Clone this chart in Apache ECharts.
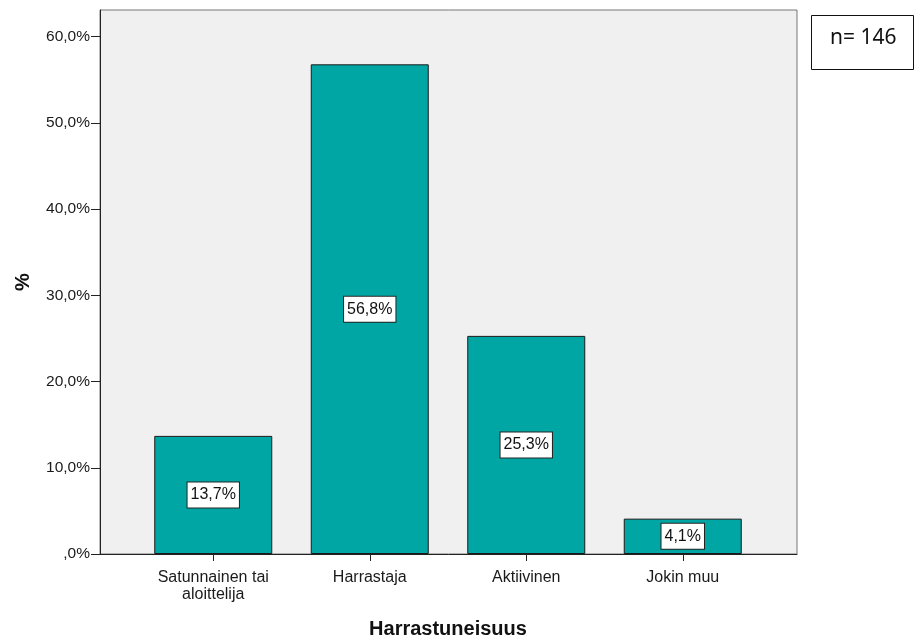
<!DOCTYPE html>
<html><head><meta charset="utf-8">
<script src="https://cdn.jsdelivr.net/npm/echarts@6/dist/echarts.min.js"></script>
<style>html,body{margin:0;padding:0;background:#fff}#c{width:915px;height:639px}</style>
</head><body><div id="c"></div>
<script>
const categories = ['Satunnainen tai\naloittelija', 'Harrastaja', 'Aktiivinen', 'Jokin muu'];
const values = [13.7, 56.8, 25.3, 4.1];
const yTicks = [0, 10, 20, 30, 40, 50, 60];
const xTitle = 'Harrastuneisuus';
const yTitle = '%';
const nText = 'n= 146';

const fmt = v => (v === 0 ? '' : String(Math.floor(v))) + ',' + String(Math.round((v % 1) * 10)) + '%';
const F = 'Liberation Sans, Arial, sans-serif';
const chart = echarts.init(document.getElementById('c'));
const yMax = 63.1;
chart.setOption({
  animation: false,
  grid: [
    {left: 100, right: 118, top: 10, bottom: 85, show: true, backgroundColor: '#f0f0f0', borderColor: '#777', borderWidth: 1, containLabel: false, outerBoundsMode: 'none'},
    {left: 135, right: 154, top: 10, bottom: 85, containLabel: false, outerBoundsMode: 'none'}
  ],
  xAxis: [
    {gridIndex: 0, type: 'value', min: 0, max: 1,
     axisLine: {show: true, lineStyle: {color: '#222'}}, axisTick: {show: false}, axisLabel: {show: false}, splitLine: {show: false}},
    {gridIndex: 1, type: 'category', data: categories,
     axisLine: {show: false},
     axisTick: {show: true, alignWithLabel: true, length: 7, lineStyle: {color: '#222'}},
     axisLabel: {fontFamily: F, fontSize: 16, color: '#1a1a1a', margin: 15, lineHeight: 17},
     name: xTitle, nameLocation: 'middle', nameGap: 65,
     nameTextStyle: {fontFamily: F, fontSize: 20, fontWeight: 'bold', color: '#111'}}
  ],
  yAxis: [
    {gridIndex: 0, type: 'value', min: 0, max: yMax,
     axisLine: {show: true, lineStyle: {color: '#222'}},
     axisTick: {show: true, length: 9, customValues: yTicks, lineStyle: {color: '#222'}},
     axisLabel: {fontFamily: F, fontSize: 15.5, color: '#1a1a1a', margin: 10, customValues: yTicks,
       formatter: v => fmt(v)},
     splitLine: {show: false},
     name: yTitle, nameLocation: 'middle', nameGap: 67, nameRotate: 90,
     nameTextStyle: {fontFamily: F, fontSize: 20, fontWeight: 'bold', color: '#111'}},
    {gridIndex: 1, type: 'value', min: 0, max: yMax, show: false}
  ],
  series: [{
    type: 'bar', xAxisIndex: 1, yAxisIndex: 1, data: values, barWidth: 118,
    itemStyle: {color: '#00a6a3', borderColor: '#1a1a1a', borderWidth: 1},
    label: {show: true, position: 'inside', formatter: p => fmt(p.value),
      fontFamily: F, fontSize: 16, color: '#111', backgroundColor: '#fff', lineHeight: 18,
      borderColor: '#222', borderWidth: 1, padding: [4, 3, 3, 3]}
  }],
  graphic: [
    {type: 'rect', shape: {x: 811.5, y: 15.5, width: 102, height: 54}, style: {fill: '#fff', stroke: '#111', lineWidth: 1}},
    {type: 'text', left: 830, top: 28, style: {text: nText, font: '21px "Noto Sans", sans-serif', fill: '#111'}}
  ]
});
</script></body></html>
